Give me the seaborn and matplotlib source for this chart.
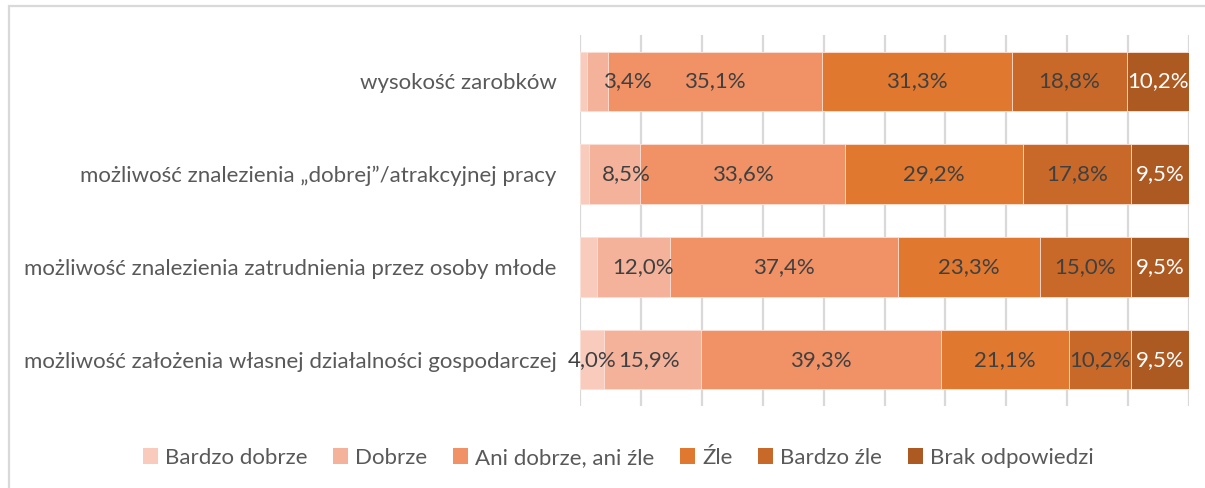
import numpy as np
import pandas as pd
import matplotlib
matplotlib.use("Agg")
import matplotlib.pyplot as plt
from matplotlib.patches import Rectangle, Patch
import seaborn as sns

categories = [
    "wysokość zarobków",
    "możliwość znalezienia „dobrej”/atrakcyjnej pracy",
    "możliwość znalezienia zatrudnienia przez osoby młode",
    "możliwość założenia własnej działalności gospodarczej",
]
series = ["Bardzo dobrze", "Dobrze", "Ani dobrze, ani źle", "Źle", "Bardzo źle", "Brak odpowiedzi"]

bardzo_dobrze = [1.2, 1.4, 2.8, 4.0]
dobrze = [3.4, 8.5, 12.0, 15.9]
ani = [35.1, 33.6, 37.4, 39.3]
zle = [31.3, 29.2, 23.3, 21.1]
bardzo_zle = [18.8, 17.8, 15.0, 10.2]
brak = [10.2, 9.5, 9.5, 9.5]

# which small segments carry a value label
show_first = [False, False, False, True]
# horizontal nudge (in axis units) for the narrow "Dobrze" labels
dobrze_nudge = [4.8, 2.0, 1.5, -0.6]

colors = ["#F8CBBC", "#F4B29A", "#F09166", "#E0782F", "#C8692A", "#AD5A22"]
label_colors = ["#404040"] * 5 + ["#FFFFFF"]

values = np.array([bardzo_dobrze, dobrze, ani, zle, bardzo_zle, brak])
cum = np.cumsum(values, axis=0)

sns.set_theme(style="white")
plt.rcParams["font.family"] = ["Lato", "DejaVu Sans"]

FS = 16

fig = plt.figure(figsize=(12.05, 4.88), dpi=100)
ax = fig.add_axes([580 / 1205, 1 - 406 / 488, 609 / 1205, 371 / 488])

# stacked bars: draw cumulative totals from the outermost series inward
for i in range(len(series) - 1, -1, -1):
    df = pd.DataFrame({"kategoria": categories, "wartosc": cum[i]})
    sns.barplot(data=df, x="wartosc", y="kategoria", order=categories,
                color=colors[i], saturation=1, width=0.64, ax=ax,
                edgecolor="#FBE3DA", linewidth=0.6, zorder=2)

ax.set_xlim(0, 100)
ax.set_ylim(3.5, -0.5)
ax.set_xticks(np.arange(0, 101, 10))
ax.set_xticklabels([])
ax.grid(axis="x", color="#D9D9D9", linewidth=1.6, zorder=0)
ax.grid(axis="y", visible=False)
ax.set_axisbelow(True)
for s in ax.spines.values():
    s.set_visible(False)
ax.set_xlabel("")
ax.set_ylabel("")
ax.tick_params(axis="y", length=0, pad=17, labelsize=FS, labelcolor="#595959")
ax.tick_params(axis="x", length=0)

for i in range(len(series)):
    for j in range(len(categories)):
        if i == 0 and not show_first[j]:
            continue
        v = values[i, j]
        x = cum[i, j] - v / 2
        if i == 1:
            x += dobrze_nudge[j]
        ax.text(x, j, f"{v:.1f}%".replace(".", ","), ha="center", va="center",
                fontsize=FS, color=label_colors[i], zorder=5)

handles = [Patch(facecolor=c, edgecolor="none") for c in colors]
fig.legend(handles, series, loc="center", bbox_to_anchor=(618 / 1205, 1 - 458 / 488),
           ncol=6, frameon=False, fontsize=FS, labelcolor="#595959",
           handlelength=0.7, handleheight=0.7, handletextpad=0.3, columnspacing=1.15)

# chart area border
fig.patches.append(Rectangle((9 / 1205, -0.2), 1.2, 1.2 - 5.5 / 488,
                             transform=fig.transFigure, fill=False,
                             edgecolor="#D9D9D9", linewidth=1.6))

fig.savefig("out.png", dpi=100)
